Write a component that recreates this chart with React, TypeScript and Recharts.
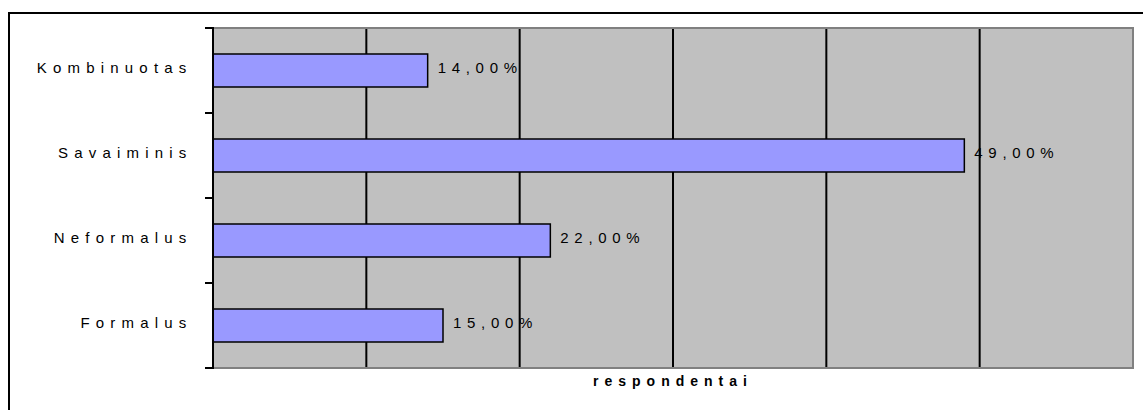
import { BarChart, Bar, XAxis, YAxis, CartesianGrid, ReferenceArea, LabelList } from 'recharts';

const categories = ['Kombinuotas', 'Savaiminis', 'Neformalus', 'Formalus'];
const shares = [14, 49, 22, 15];
const gridTicks = [10, 20, 30, 40, 50];

const chartData = categories.map((name, i) => ({ name, value: shares[i] }));

const FONT = '"Liberation Sans", Arial, sans-serif';

const fmt = (v: any) => `${Number(v).toFixed(2).replace('.', ',')}%`;

// tick marks sit on the category boundaries, not the centres
function CategoryTick(props: any) {
  const { x, y, payload } = props;
  const half = payload && payload.offset ? payload.offset : 42.5;
  return (
    <g>
      <line x1={x} x2={x + 9} y1={y - half} y2={y - half} stroke="#000" strokeWidth={2} />
      <line x1={x} x2={x + 9} y1={y + half} y2={y + half} stroke="#000" strokeWidth={2} />
      <text x={x - 12.5} y={y} dy={2.5} textAnchor="end" fontSize={15} letterSpacing={6.2} fill="#000" fontFamily={FONT}>
        {payload.value}
      </text>
    </g>
  );
}

// x ticks are not labelled, but they must exist for the grid
const NoTick = () => <g />;

export default function App() {
  return (
    <div style={{ position: 'absolute', left: 0, top: 0, width: 1143, height: 410, overflow: 'hidden', background: '#fff' }}>
      <div style={{ position: 'absolute', left: 8, top: 12, width: 1300, height: 600, border: '2px solid #000' }} />
      <div style={{ position: 'absolute', left: 0, top: 0 }}>
        <BarChart
          width={1143}
          height={410}
          data={chartData}
          layout="vertical"
          margin={{ top: 28, right: 10, bottom: 0, left: 0 }}
          barCategoryGap={26}
        >
          <CartesianGrid horizontal={false} vertical stroke="#000" strokeWidth={2} fill="#C0C0C0" fillOpacity={1} />
          <ReferenceArea x1={0} x2={60} fill="none" stroke="#808080" strokeWidth={2} />
          <XAxis
            type="number"
            domain={[0, 60]}
            ticks={gridTicks}
            tick={<NoTick />}
            tickLine={false}
            axisLine={false}
            height={42}
            label={{ value: 'respondentai', position: 'insideTop', offset: 8, fontSize: 14, fontWeight: 'bold', letterSpacing: 6, fill: '#000', fontFamily: FONT }}
          />
          <YAxis
            type="category"
            dataKey="name"
            width={213}
            axisLine={{ stroke: '#000', strokeWidth: 2 }}
            tickLine={false}
            tick={<CategoryTick />}
          />
          <Bar dataKey="value" fill="#9999FF" stroke="#000" strokeWidth={1.5} barSize={33} isAnimationActive={false}>
            <LabelList
              dataKey="value"
              position="right"
              offset={10}
              formatter={fmt}
              fill="#000"
              fontSize={15}
              letterSpacing={5.7}
              fontFamily={FONT}
              dy={-2.5}
            />
          </Bar>
        </BarChart>
      </div>
    </div>
  );
}
